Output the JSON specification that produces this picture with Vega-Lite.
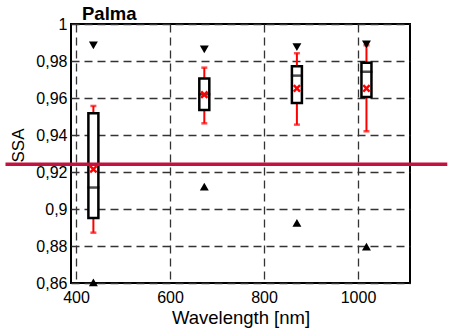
{
  "$schema": "https://vega.github.io/schema/vega-lite/v6.json",
  "autosize": {"type": "none"},
  "width": 339,
  "height": 259,
  "padding": {"left": 71, "top": 24, "right": 40, "bottom": 49},
  "background": "white",
  "config": {
    "view": {"stroke": "black", "strokeWidth": 2},
    "font": "Liberation Sans",
    "axis": {
      "domain": false,
      "ticks": false,
      "grid": true,
      "gridColor": "#333333",
      "gridDash": [8, 5],
      "gridWidth": 1.3,
      "labelOverlap": false,
      "labelFont": "Liberation Sans",
      "labelFontSize": 16,
      "labelColor": "black",
      "titleFont": "Liberation Sans",
      "titleFontSize": 17,
      "titleFontWeight": "normal",
      "titleColor": "black"
    }
  },
  "title": {
    "text": "Palma",
    "anchor": "start",
    "frame": "group",
    "dx": 11,
    "dy": 22,
    "offset": 0,
    "baseline": "alphabetic",
    "font": "Liberation Sans",
    "fontSize": 18.5,
    "fontWeight": "bold",
    "color": "black"
  },
  "datasets": {
    "boxes": [
      {"wl": 437, "q1": 0.8951, "q3": 0.9517, "median": 0.9116, "mean": 0.9215, "lo": 0.8872, "hi": 0.9557, "min": 0.8604, "max": 0.9885},
      {"wl": 673, "q1": 0.9535, "q3": 0.9705, "median": 0.9620, "mean": 0.9618, "lo": 0.9463, "hi": 0.9764, "min": 0.9121, "max": 0.9863},
      {"wl": 870, "q1": 0.9573, "q3": 0.9771, "median": 0.9721, "mean": 0.9652, "lo": 0.9456, "hi": 0.9842, "min": 0.8925, "max": 0.9875},
      {"wl": 1018, "q1": 0.9605, "q3": 0.9791, "median": 0.9742, "mean": 0.9652, "lo": 0.9420, "hi": 0.9885, "min": 0.8797, "max": 0.9890}
    ],
    "refline": [{"x1": 250, "x2": 1190, "y": 0.9242}]
  },
  "encoding": {
    "x": {"type": "quantitative", "scale": {"domain": [400, 1100], "nice": false}, "axis": {"values": [400, 600, 800, 1000], "tickCount": 10, "format": "d", "title": "Wavelength [nm]", "titleFontSize": 18.5, "labelPadding": 6, "titlePadding": 3}},
    "y": {"type": "quantitative", "scale": {"domain": [0.86, 1], "nice": false, "zero": false}, "axis": {"values": [0.86, 0.88, 0.9, 0.92, 0.94, 0.96, 0.98, 1], "tickCount": 12, "labelExpr": "replace(format(datum.value, '.2~f'), '.', ',')", "title": "SSA", "labelPadding": 4, "titleX": -53, "titleY": 121, "titleBaseline": "middle", "titleAngle": -90}}
  },
  "layer": [
    {
      "data": {"name": "boxes"},
      "mark": {"type": "rule", "color": "#ff0000", "strokeWidth": 2},
      "encoding": {
        "x": {"field": "wl", "type": "quantitative"},
        "y": {"field": "lo", "type": "quantitative"},
        "y2": {"field": "hi"}
      }
    },
    {
      "data": {"name": "boxes"},
      "mark": {"type": "tick", "orient": "horizontal", "color": "#ff0000", "size": 6, "thickness": 2.5},
      "encoding": {
        "x": {"field": "wl", "type": "quantitative"},
        "y": {"field": "lo", "type": "quantitative"}
      }
    },
    {
      "data": {"name": "boxes"},
      "mark": {"type": "tick", "orient": "horizontal", "color": "#ff0000", "size": 6, "thickness": 2.5},
      "encoding": {
        "x": {"field": "wl", "type": "quantitative"},
        "y": {"field": "hi", "type": "quantitative"}
      }
    },
    {
      "data": {"name": "boxes"},
      "mark": {"type": "bar", "width": 10, "fill": "white", "stroke": "black", "strokeWidth": 2.5},
      "encoding": {
        "x": {"field": "wl", "type": "quantitative"},
        "y": {"field": "q1", "type": "quantitative"},
        "y2": {"field": "q3"}
      }
    },
    {
      "data": {"name": "boxes"},
      "mark": {"type": "tick", "orient": "horizontal", "color": "black", "size": 12, "thickness": 2.5},
      "encoding": {
        "x": {"field": "wl", "type": "quantitative"},
        "y": {"field": "median", "type": "quantitative"}
      }
    },
    {
      "data": {"name": "boxes"},
      "mark": {"type": "point", "shape": "M-1,-1L1,1M-1,1L1,-1", "size": 40, "filled": false, "stroke": "#ff0000", "strokeWidth": 2.5, "opacity": 1},
      "encoding": {
        "x": {"field": "wl", "type": "quantitative"},
        "y": {"field": "mean", "type": "quantitative"}
      }
    },
    {
      "data": {"name": "boxes"},
      "mark": {"type": "point", "shape": "triangle-down", "size": 80, "filled": true, "color": "black", "opacity": 1},
      "encoding": {
        "x": {"field": "wl", "type": "quantitative"},
        "y": {"field": "max", "type": "quantitative"}
      }
    },
    {
      "data": {"name": "boxes"},
      "mark": {"type": "point", "shape": "triangle-up", "size": 80, "filled": true, "color": "black", "opacity": 1},
      "encoding": {
        "x": {"field": "wl", "type": "quantitative"},
        "y": {"field": "min", "type": "quantitative"}
      }
    },
    {
      "data": {"name": "refline"},
      "mark": {"type": "rule", "color": "#c2123f", "strokeWidth": 3.5},
      "encoding": {
        "x": {"field": "x1", "type": "quantitative"},
        "x2": {"field": "x2"},
        "y": {"field": "y", "type": "quantitative"}
      }
    }
  ]
}
